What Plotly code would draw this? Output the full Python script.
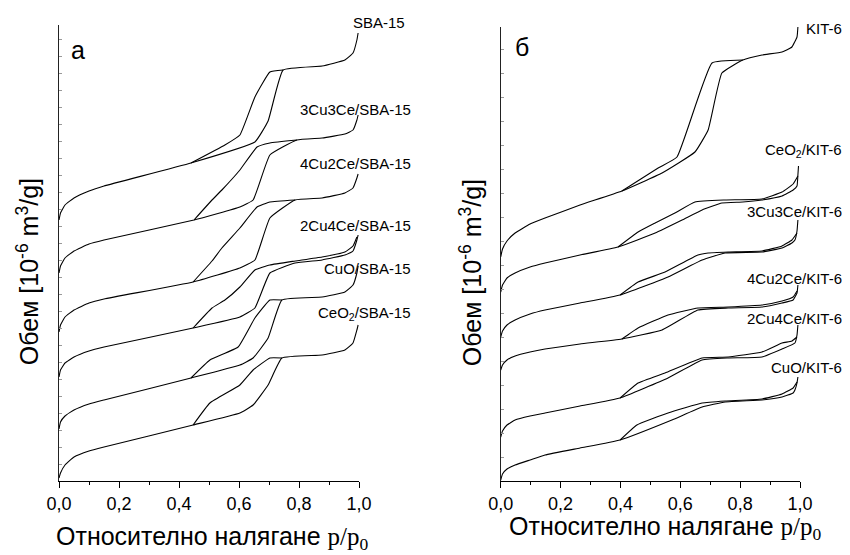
import plotly.graph_objects as go

# ---------------- data (p/p0 , volume, arbitrary units) ----------------
TICK_VALS = [0.0, 0.2, 0.4, 0.6, 0.8, 1.0]
TICK_TEXT = ["0,0", "0,2", "0,4", "0,6", "0,8", "1,0"]

# ---- panel a : SBA-15 series ----
SBA15_ADS_P = [0, .005, .02, .05, .10, .15, .44, .653, .697, .747, .877, .953, .98, .993, .997]
SBA15_ADS_V = [261, 268, 276, 283, 290, 295, 318, 339, 360, 411, 415, 421, 428, 441, 448]
SBA15_DES_P = [.747, .703, .653, .603, .553, .44]
SBA15_DES_V = [411, 409, 384, 346, 336, 318]

CU3CE3_SBA_ADS_P = [0, .005, .02, .05, .10, .15, .45, .603, .647, .703, .793, .877, .953, .98, .993, .997]
CU3CE3_SBA_ADS_V = [208, 215, 223, 230, 237, 241, 261, 274, 281, 326, 341, 343, 347, 351, 361, 366]
CU3CE3_SBA_DES_P = [.793, .703, .66, .603, .543, .51, .45]
CU3CE3_SBA_DES_V = [341, 338, 334, 311, 291, 281, 261]

CU4CE2_SBA_ADS_P = [0, .005, .02, .05, .10, .15, .447, .603, .653, .703, .787, .877, .953, .98, .993, .997]
CU4CE2_SBA_ADS_V = [149, 156, 164, 171, 178, 182, 199, 213, 221, 263, 281, 283, 288, 293, 303, 307]
CU4CE2_SBA_DES_P = [.787, .703, .66, .603, .543, .51, .447]
CU4CE2_SBA_DES_V = [281, 279, 274, 253, 233, 220, 199]

CU2CE4_SBA_ADS_P = [0, .005, .02, .05, .10, .15, .447, .603, .653, .703, .787, .877, .953, .98, .993, .997]
CU2CE4_SBA_ADS_V = [104, 111, 118, 124, 130, 134, 153, 164, 173, 208, 218, 221, 226, 230, 241, 246]
CU2CE4_SBA_DES_P = [.993, .98, .953, .877, .787, .703, .653, .603, .553, .51, .447]
CU2CE4_SBA_DES_V = [244, 235, 229, 224, 220, 216, 211, 194, 181, 173, 153]

CUO_SBA_ADS_P = [0, .005, .02, .05, .10, .15, .44, .603, .647, .697, .743, .877, .953, .98, .993, .997]
CUO_SBA_ADS_V = [52, 59, 65, 71, 77, 81, 103, 116, 123, 143, 181, 184, 189, 196, 208, 215]
CUO_SBA_DES_P = [.743, .703, .653, .597, .503, .44]
CUO_SBA_DES_V = [181, 181, 163, 134, 121, 103]

CEO2_SBA_ADS_P = [0, .005, .02, .05, .10, .15, .447, .603, .647, .697, .743, .877, .953, .98, .993, .997]
CEO2_SBA_ADS_V = [3, 8, 16, 24, 30, 34, 56, 68, 76, 96, 123, 126, 131, 138, 151, 156]
CEO2_SBA_DES_P = [.743, .703, .647, .603, .503, .447]
CEO2_SBA_DES_V = [123, 123, 111, 96, 78, 56]

# ---- panel б : KIT-6 series ----
KIT6_ADS_P = [0, .006, .021, .048, .098, .148, .265, .405, .539, .649, .693, .739, .809, .873, .94, .973, .99, .993]
KIT6_ADS_V = [224, 232, 240, 248, 257, 263, 276, 290, 308, 329, 351, 408, 421, 426, 429, 434, 444, 454]
KIT6_DES_P = [.809, .706, .589, .526, .405]
KIT6_DES_V = [421, 418, 324, 313, 290]

CEO2_KIT_ADS_P = [0, .006, .021, .048, .098, .148, .265, .392, .516, .606, .673, .739, .809, .873, .94, .977, .99, .993, .995]
CEO2_KIT_ADS_V = [189, 196, 203, 208, 214, 218, 226, 234, 248, 261, 271, 278, 279, 281, 285, 291, 295, 306, 315]
CEO2_KIT_DES_P = [.993, .977, .94, .873, .75, .649, .582, .516, .459, .392]
CEO2_KIT_DES_V = [305, 297, 289, 282, 281, 279, 268, 258, 249, 234]

CU3CE3_KIT_ADS_P = [0, .006, .021, .048, .098, .148, .265, .399, .559, .673, .75, .873, .94, .973, .983, .99, .993]
CU3CE3_KIT_ADS_V = [144, 150, 156, 161, 167, 171, 178, 186, 204, 221, 228, 229, 233, 238, 241, 250, 261]
CU3CE3_KIT_DES_P = [.99, .973, .94, .873, .76, .693, .659, .549, .459, .399]
CU3CE3_KIT_DES_V = [248, 241, 235, 230, 229, 228, 226, 209, 199, 186]

CU4CE2_KIT_ADS_P = [0, .006, .021, .048, .098, .148, .265, .405, .539, .659, .76, .873, .94, .977, .99, .993]
CU4CE2_KIT_ADS_V = [111, 116, 121, 125, 129, 132, 137, 142, 151, 171, 173, 174, 178, 181, 188, 196]
CU4CE2_KIT_DES_P = [.99, .977, .94, .873, .76, .659, .559, .459, .405]
CU4CE2_KIT_DES_V = [190, 184, 180, 176, 174, 173, 166, 153, 142]

CU2CE4_KIT_ADS_P = [0, .006, .021, .048, .098, .148, .265, .399, .559, .673, .76, .873, .94, .983, .99, .993]
CU2CE4_KIT_ADS_V = [44, 50, 56, 61, 65, 68, 75, 83, 103, 121, 123, 124, 132, 138, 146, 156]
CU2CE4_KIT_DES_P = [.99, .973, .94, .873, .76, .673, .549, .459, .399]
CU2CE4_KIT_DES_V = [144, 140, 138, 129, 124, 123, 108, 98, 83]

CUO_KIT_ADS_P = [0, .006, .021, .048, .098, .148, .265, .399, .572, .673, .75, .873, .94, .977, .983, .99, .993]
CUO_KIT_ADS_V = [1, 7, 12, 16, 21, 26, 33, 41, 61, 74, 79, 81, 84, 88, 91, 98, 104]
CUO_KIT_DES_P = [.99, .977, .94, .873, .75, .673, .559, .455, .399]
CUO_KIT_DES_V = [99, 93, 87, 82, 80, 78, 68, 56, 41]

# series labels: text, p of right edge, volume of label centre
LABELS_A = ["SBA-15", "3Cu3Ce/SBA-15", "4Cu2Ce/SBA-15", "2Cu4Ce/SBA-15", "CuO/SBA-15", "CeO<sub>2</sub>/SBA-15"]
LABELS_A_P = [1.16, 1.18, 1.18, 1.18, 1.18, 1.18]
LABELS_A_V = [459, 371, 318, 256, 213, 168]

LABELS_B = ["KIT-6", "CeO<sub>2</sub>/KIT-6", "3Cu3Ce/KIT-6", "4Cu2Ce/KIT-6", "2Cu4Ce/KIT-6", "CuO/KIT-6"]
LABELS_B_P = [1.147, 1.147, 1.147, 1.147, 1.147, 1.147]
LABELS_B_V = [453, 331, 269, 203, 163, 114]

Y_MAX_A = 456
Y_MAX_B = 454

SERIES_A = [
    (SBA15_ADS_P, SBA15_ADS_V, SBA15_DES_P, SBA15_DES_V),
    (CU3CE3_SBA_ADS_P, CU3CE3_SBA_ADS_V, CU3CE3_SBA_DES_P, CU3CE3_SBA_DES_V),
    (CU4CE2_SBA_ADS_P, CU4CE2_SBA_ADS_V, CU4CE2_SBA_DES_P, CU4CE2_SBA_DES_V),
    (CU2CE4_SBA_ADS_P, CU2CE4_SBA_ADS_V, CU2CE4_SBA_DES_P, CU2CE4_SBA_DES_V),
    (CUO_SBA_ADS_P, CUO_SBA_ADS_V, CUO_SBA_DES_P, CUO_SBA_DES_V),
    (CEO2_SBA_ADS_P, CEO2_SBA_ADS_V, CEO2_SBA_DES_P, CEO2_SBA_DES_V),
]
SERIES_B = [
    (KIT6_ADS_P, KIT6_ADS_V, KIT6_DES_P, KIT6_DES_V),
    (CEO2_KIT_ADS_P, CEO2_KIT_ADS_V, CEO2_KIT_DES_P, CEO2_KIT_DES_V),
    (CU3CE3_KIT_ADS_P, CU3CE3_KIT_ADS_V, CU3CE3_KIT_DES_P, CU3CE3_KIT_DES_V),
    (CU4CE2_KIT_ADS_P, CU4CE2_KIT_ADS_V, CU4CE2_KIT_DES_P, CU4CE2_KIT_DES_V),
    (CU2CE4_KIT_ADS_P, CU2CE4_KIT_ADS_V, CU2CE4_KIT_DES_P, CU2CE4_KIT_DES_V),
    (CUO_KIT_ADS_P, CUO_KIT_ADS_V, CUO_KIT_DES_P, CUO_KIT_DES_V),
]

SANS = "Liberation Sans"

fig = go.Figure()
line = dict(color="black", width=1.1, shape="spline", smoothing=0.35)

def add_panel(series, labels, lp, lv, xa, ya, ymax):
    for (ap, av, dp, dv) in series:
        fig.add_trace(go.Scatter(x=ap, y=av, mode="lines", line=line, xaxis=xa, yaxis=ya,
                                 showlegend=False, hoverinfo="skip"))
        fig.add_trace(go.Scatter(x=dp, y=dv, mode="lines", line=line, xaxis=xa, yaxis=ya,
                                 showlegend=False, hoverinfo="skip"))
    for lab, px, vy in zip(labels, lp, lv):
        fig.add_annotation(x=px, y=vy / ymax, xref=xa + " domain", yref=ya + " domain", text=lab,
                           showarrow=False, xanchor="right", yanchor="middle",
                           font=dict(family=SANS, size=15, color="black"))

add_panel(SERIES_A, LABELS_A, LABELS_A_P, LABELS_A_V, "x", "y", Y_MAX_A)
add_panel(SERIES_B, LABELS_B, LABELS_B_P, LABELS_B_V, "x2", "y2", Y_MAX_B)

# panel letters
fig.add_annotation(x=0.063, y=431, xref="x", yref="y", text="a", showarrow=False,
                   xanchor="center", yanchor="middle", font=dict(family=SANS, size=25, color="black"))
fig.add_annotation(x=0.071, y=434, xref="x2", yref="y2", text="б", showarrow=False,
                   xanchor="center", yanchor="middle", font=dict(family=SANS, size=25, color="black"))

# axis titles
ytitle = "Обем [10<sup>-6</sup> m<sup>3</sup>/g]"
xtitle = "Относително налягане <span style='font-family:Liberation Serif'>p/p<sub>0</sub></span>"
for xp in (-0.0418, 0.556):
    fig.add_annotation(x=xp, y=0.458, xref="paper", yref="paper", text=ytitle, textangle=-90,
                       xanchor="center", yanchor="middle", showarrow=False,
                       font=dict(family=SANS, size=25, color="black"))
for xp, yp in ((0.2065, -0.125), (0.8178, -0.103)):
    fig.add_annotation(x=xp, y=yp, xref="paper", yref="paper", text=xtitle,
                       xanchor="center", yanchor="middle", showarrow=False,
                       font=dict(family=SANS, size=25, color="black"))

xax = dict(range=[0, 1], showline=True, linecolor="black", linewidth=1.3, mirror=False,
           ticks="outside", ticklen=6, tickwidth=1.2, tickcolor="black",
           tickvals=TICK_VALS, ticktext=TICK_TEXT, tickfont=dict(family=SANS, size=18, color="black"),
           minor=dict(dtick=0.1, tick0=0, ticks="outside", ticklen=3, tickcolor="black", tickwidth=1),
           showgrid=False, zeroline=False)
yax = dict(showline=True, linecolor="#222", linewidth=1.4, ticks="inside", ticklen=3,
           tickcolor="#999", tickwidth=1, showticklabels=False, showgrid=False, zeroline=False, tick0=0)

# the page body adds an 8 px offset, so the figure is 8 px smaller than the window
fig.update_layout(
    width=842, height=547,
    margin=dict(l=51, r=50, t=17, b=74),
    paper_bgcolor="white", plot_bgcolor="white",
    showlegend=False,
    xaxis=dict(xax, domain=[0, 0.40486], anchor="y"),
    xaxis2=dict(xax, domain=[0.5961, 1.0], anchor="y2"),
    yaxis=dict(yax, domain=[0, 1], range=[0, Y_MAX_A], dtick=17, anchor="x"),
    yaxis2=dict(yax, domain=[0, Y_MAX_B / Y_MAX_A], range=[0, Y_MAX_B], dtick=24, anchor="x2"),
)

fig.write_html("out.html")
